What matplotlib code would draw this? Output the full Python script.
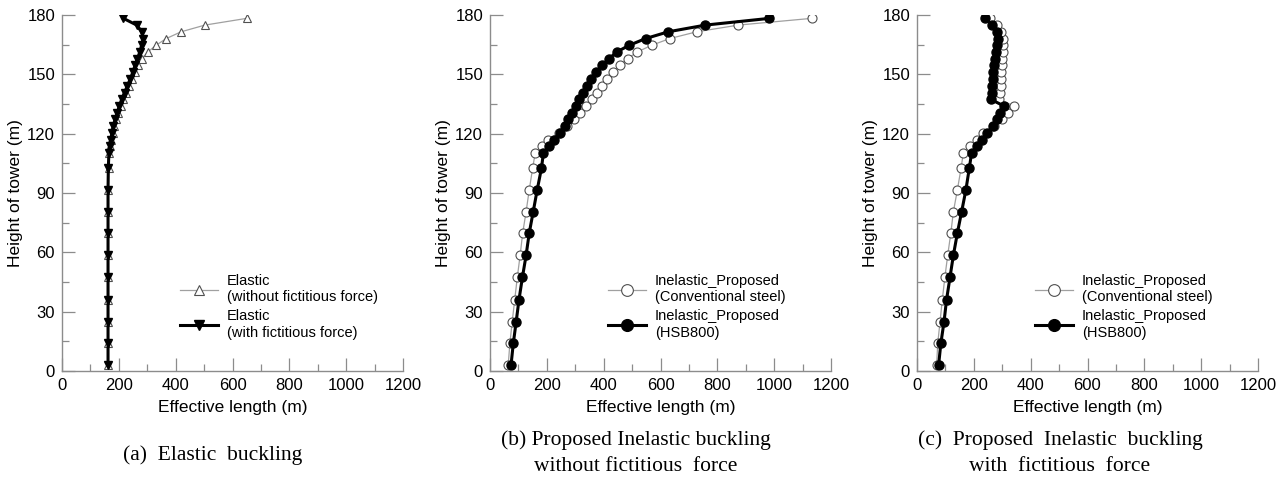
import matplotlib
matplotlib.use("Agg")
import matplotlib.pyplot as plt
from matplotlib.ticker import MultipleLocator

# ---------------- data ----------------
heights = [3.0, 14.0, 24.8, 36.0, 47.3, 58.5, 69.7, 80.5, 91.5, 102.5,
           110.2, 113.6, 117.0, 120.4, 123.8, 127.2, 130.6, 134.0, 137.4, 140.8,
           144.2, 147.6, 151.0, 154.5, 157.9, 161.3, 164.7, 168.1, 171.5, 174.9, 178.3]

elastic_without = [162, 162, 162, 162, 162, 162, 162, 162, 163, 164,
                   167, 170, 174, 179, 184, 190, 198, 206, 215, 225,
                   235, 246, 256, 267, 282, 302, 331, 367, 419, 503, 650]
elastic_with = [162, 162, 162, 162, 162, 162, 162, 162, 162, 163,
                165, 168, 172, 176, 181, 187, 194, 202, 210, 220,
                230, 240, 249, 257, 265, 274, 280, 286, 281, 263, 216]

b_conventional = [64, 70, 78, 87, 96, 106, 115, 127, 138, 150,
                  159, 182, 205, 243, 272, 296, 317, 338, 358, 378,
                  395, 413, 434, 457, 484, 518, 569, 633, 727, 874, 1132]
b_hsb800 = [74, 82, 92, 102, 114, 127, 138, 152, 166, 181,
            188, 209, 226, 246, 264, 276, 290, 301, 313, 326,
            340, 355, 373, 395, 419, 446, 490, 548, 627, 758, 983]

c_conventional = [69, 73, 81, 89, 98, 108, 119, 128, 142, 155,
                  163, 186, 210, 233, 272, 298, 321, 342, 288, 292,
                  295, 295, 296, 298, 300, 302, 304, 302, 295, 280, 257]
c_hsb800 = [76, 84, 95, 104, 116, 128, 142, 157, 172, 184,
            192, 212, 230, 248, 266, 280, 292, 306, 259, 263,
            265, 266, 269, 271, 274, 278, 283, 284, 280, 265, 239]

x_label = "Effective length (m)"
y_label = "Height of tower (m)"
legend_a = ["Elastic\n(without fictitious force)", "Elastic\n(with fictitious force)"]
legend_bc = ["Inelastic_Proposed\n(Conventional steel)", "Inelastic_Proposed\n(HSB800)"]
captions = ["(a)  Elastic  buckling",
            "(b) Proposed Inelastic buckling\nwithout fictitious  force",
            "(c)  Proposed  Inelastic  buckling\nwith  fictitious  force"]

# ---------------- style ----------------
plt.rcParams['font.family'] = ['Liberation Sans', 'DejaVu Sans']
W, H = 1287, 484
fig = plt.figure(figsize=(W / 100, H / 100), dpi=100)

lefts = [62, 490, 917]
ax_w, ax_bottom, ax_top = 341, 371, 15
gray = '#8c8c8c'

axes = []
for lx in lefts:
    ax = fig.add_axes([lx / W, (H - ax_bottom) / H, ax_w / W, (ax_bottom - ax_top) / H])
    ax.set_xlim(0, 1200)
    ax.set_ylim(0, 180)
    ax.xaxis.set_major_locator(MultipleLocator(200))
    ax.xaxis.set_minor_locator(MultipleLocator(100))
    ax.yaxis.set_major_locator(MultipleLocator(30))
    ax.yaxis.set_minor_locator(MultipleLocator(15))
    for s in ['top', 'right']:
        ax.spines[s].set_visible(False)
    for s in ['left', 'bottom']:
        ax.spines[s].set_color(gray)
        ax.spines[s].set_linewidth(1.0)
    ax.tick_params(which='major', direction='in', length=9.5, width=0.9, color=gray,
                   labelsize=12, pad=5)
    ax.tick_params(which='minor', direction='in', length=4.7, width=0.9, color=gray)
    ax.set_xlabel(x_label, fontsize=12.5, labelpad=5)
    ax.set_ylabel(y_label, fontsize=12.5, labelpad=3)
    axes.append(ax)

hollow_kw = dict(color='#a0a0a0', lw=0.9, mfc='white', mec='#505050', mew=0.8)
filled_kw = dict(color='black', lw=2.2, mfc='black', mec='black')

# (a)
ax = axes[0]
ax.plot(elastic_without, heights, marker='^', ms=6, label=legend_a[0], **hollow_kw)
ax.plot(elastic_with, heights, marker='v', ms=6, label=legend_a[1], **filled_kw)

# (b)
ax = axes[1]
ax.plot(b_conventional, heights, marker='o', ms=6.5, label=legend_bc[0], **hollow_kw)
ax.plot(b_hsb800, heights, marker='o', ms=6.5, label=legend_bc[1], **filled_kw)

# (c)
ax = axes[2]
ax.plot(c_conventional, heights, marker='o', ms=6.5, label=legend_bc[0], **hollow_kw)
ax.plot(c_hsb800, heights, marker='o', ms=6.5, label=legend_bc[1], **filled_kw)

for ax in axes:
    ax.legend(loc='center left', bbox_to_anchor=(0.33, 0.18), frameon=False,
              fontsize=10.5, handlelength=2.6, handletextpad=0.6, labelspacing=0.35,
              markerscale=1.3, borderaxespad=0)

# captions
cap_x = [213, 636, 1060]
cap_y = [455, 453, 453]
for cx, cy, txt in zip(cap_x, cap_y, captions):
    fig.text(cx / W, 1 - cy / H, txt, ha='center', va='center', fontsize=15.5,
             family=['Liberation Serif', 'DejaVu Serif'], linespacing=1.45)

fig.savefig('out.png', dpi=100)
